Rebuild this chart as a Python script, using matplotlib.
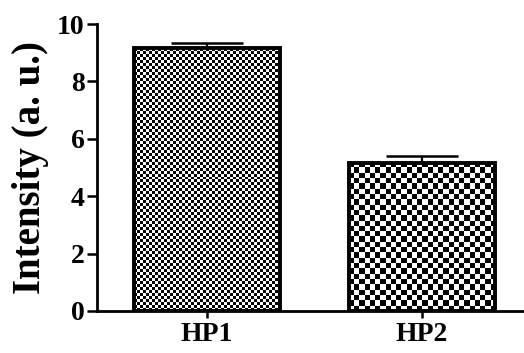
import numpy as np
import matplotlib
matplotlib.use("Agg")
import matplotlib.pyplot as plt

# bar chart with checkerboard fills, Times-like bold labels
groups = ["HP1", "HP2"]
values = [9.16, 5.16]
errors = [0.18, 0.24]
yticks = [0, 2, 4, 6, 8, 10]

CELL_PX = [3.0, 5.2]   # checker cell size in pixels for each bar
BAR_WIDTH = 0.68

plt.rcParams['font.family'] = ['Liberation Serif', 'DejaVu Serif']
plt.rcParams['font.weight'] = 'bold'

fig = plt.figure(figsize=(5.24, 3.53), dpi=100)
ax = fig.add_axes([97 / 524, 42 / 353, 1 - 97 / 524, (311 - 24) / 353])

x = np.arange(len(groups))
ax.set_xlim(-0.512, 1.474)
ax.set_ylim(0, 10)

bars = ax.bar(x, values, width=BAR_WIDTH, color='none', edgecolor='black',
              linewidth=2.8, zorder=3)

# checkerboard textures under each bar outline
fig.canvas.draw()
px_per_x = ax.bbox.width / (ax.get_xlim()[1] - ax.get_xlim()[0])
px_per_y = ax.bbox.height / (ax.get_ylim()[1] - ax.get_ylim()[0])
for bar, cell in zip(bars, CELL_PX):
    x0, w = bar.get_x(), bar.get_width()
    h = bar.get_height()
    nx = max(1, int(round(w * px_per_x / cell)))
    ny = max(1, int(round(h * px_per_y / cell)))
    board = (np.add.outer(np.arange(ny), np.arange(nx)) % 2).astype(float)
    ax.imshow(board, cmap='gray', vmin=0, vmax=1, interpolation='nearest',
              extent=[x0, x0 + w, 0, h], aspect='auto', zorder=2)

ax.set_xlim(-0.512, 1.474)
ax.set_ylim(0, 10)

ax.errorbar(x, values, yerr=[np.zeros(len(values)), errors], fmt='none',
            ecolor='black', elinewidth=1.6, capsize=26, capthick=1.8, zorder=1)

ax.spines['top'].set_visible(False)
ax.spines['right'].set_visible(False)
ax.spines['left'].set_linewidth(2.0)
ax.spines['bottom'].set_linewidth(2.0)

ax.set_xticks(x)
ax.set_xticklabels(groups, fontsize=20, fontweight='bold')
ax.set_yticks(yticks)
ax.set_yticklabels([str(t) for t in yticks], fontsize=20, fontweight='bold')
ax.tick_params(axis='y', direction='out', length=7, width=1.8, pad=2)
ax.tick_params(axis='x', direction='out', length=5, width=1.8, pad=3)

ax.set_ylabel("Intensity (a. u.)", fontsize=28, fontweight='bold', labelpad=6)

fig.savefig("out.png", dpi=100)
